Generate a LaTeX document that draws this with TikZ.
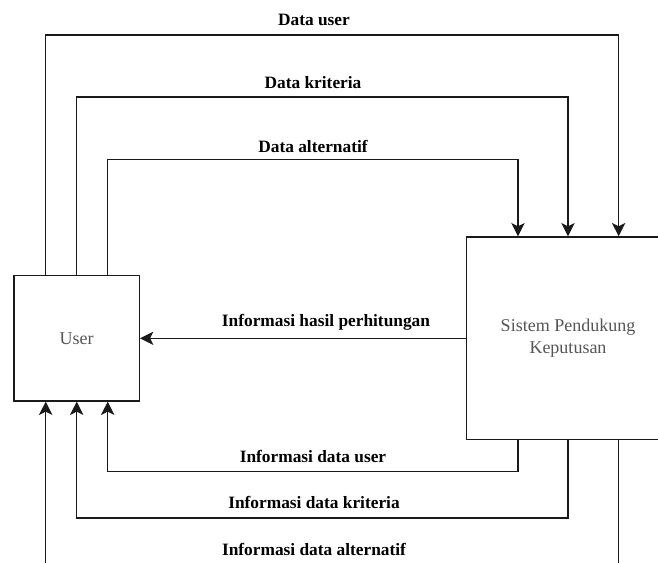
\documentclass[tikz,border=0pt]{standalone}
\usepackage{fontspec}
\setmainfont{LiberationSerif}[Extension=.ttf, UprightFont=*-Regular, BoldFont=*-Bold, ItalicFont=*-Italic, BoldItalicFont=*-BoldItalic]
\usetikzlibrary{arrows.meta}
\definecolor{boxtext}{HTML}{555555}
\definecolor{linecol}{HTML}{1A1A1A}
\tikzset{
  proc/.style={draw=linecol, line width=1pt, minimum width=#1, minimum height=#1, inner sep=0pt, align=center, text=boxtext, font=\fontsize{13.5}{16.5}\selectfont},
  flow/.style={draw=linecol, line width=1pt, -{Stealth[width=10pt,length=10pt,inset=2.5pt]}},
  lbl/.style={font=\bfseries\fontsize{13}{15}\selectfont, inner sep=0pt, text=black}
}
\begin{document}
\begin{tikzpicture}[x=0.75pt,y=-0.75pt]
\useasboundingbox (0,0) rectangle (658,563);
\clip (0,0) rectangle (658,563);
\node[proc=94pt] (user) at (76.7,338.3) {User};
\node[proc=152pt] (spk) at (568,338.3) {Sistem Pendukung\\Keputusan};
% route coordinates
\coordinate (r1) at (313,35);
\coordinate (r2) at (313,97);
\coordinate (r3) at (313,159.5);
\coordinate (r4) at (313,471.5);
\coordinate (r5) at (313,518);
\coordinate (r6) at (313,590);
% top flows
\draw[flow] ([xshift=-23.25pt]user.north) |- (r1) -| ([xshift=38pt]spk.north);
\draw[flow] (user.north) |- (r2) -| (spk.north);
\draw[flow] ([xshift=23.25pt]user.north) |- (r3) -| ([xshift=-37.5pt]spk.north);
% middle flow
\draw[flow] (spk.west) -- (user.east);
% bottom flows
\draw[flow] ([xshift=-37.5pt]spk.south) |- (r4) -| ([xshift=23.25pt]user.south);
\draw[flow] (spk.south) |- (r5) -| (user.south);
\draw[flow] ([xshift=38pt]spk.south) |- (r6) -| ([xshift=-23.25pt]user.south);
% labels
\node[lbl] (l1) at (314,20) {Data user};
\node[lbl] (l2) at (313,83) {Data kriteria};
\node[lbl] (l3) at (313,146) {Data alternatif};
\node[lbl] (l4) at (326,322.7) {Informasi hasil perhitungan};
\node[lbl] (l5) at (313,456.7) {Informasi data user};
\node[lbl] (l6) at (314,502.7) {Informasi data kriteria};
\node[lbl] (l7) at (314,549) {Informasi data alternatif};
\end{tikzpicture}
\end{document}
